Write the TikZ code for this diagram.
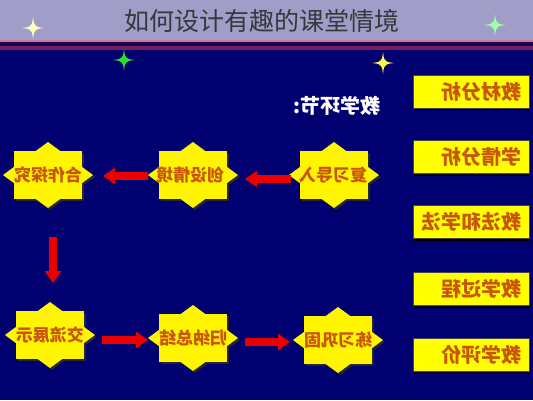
\documentclass[tikz,border=0pt]{standalone}
\usepackage{fontspec}
\usepackage{graphicx}
\newfontfamily\cjk{Noto Sans CJK SC}
\usetikzlibrary{arrows.meta,shadows}
\definecolor{navybg}{RGB}{0,0,112}
\definecolor{topband}{RGB}{160,158,200}
\definecolor{pinkline}{RGB}{205,120,150}
\definecolor{darkline}{RGB}{30,0,80}
\definecolor{maroonline}{RGB}{115,30,95}
\definecolor{staryellow}{RGB}{255,245,0}
\definecolor{boxyellow}{RGB}{255,255,0}
\definecolor{boxedge}{RGB}{70,70,80}
\definecolor{txtorange}{RGB}{200,85,10}
\definecolor{arrred}{RGB}{235,0,0}
\definecolor{titlegray}{RGB}{55,55,60}
\definecolor{sparkA}{RGB}{255,255,190}
\definecolor{sparkB}{RGB}{160,255,160}
\definecolor{sparkC}{RGB}{40,225,40}
\definecolor{sparkD}{RGB}{255,250,80}
\tikzset{
  pics/octo/.style={code={
    \fill[black!85] (-32,-22) rectangle (36,26);
    \fill[black!85] (-43,2) -- (2,-31) -- (47,2) -- (2,35) -- cycle;
    \fill[staryellow] (-34,-24) rectangle (34,24);
    \fill[staryellow] (-45,0) -- (0,-33) -- (45,0) -- (0,33) -- cycle;
  }},
  pics/spark/.style={code={
    \fill[#1, opacity=0.35] (0,0) circle (4.5);
    \fill[#1] (0,-11) .. controls (1.2,-1.2) .. (11,0) .. controls (1.2,1.2) .. (0,11)
      .. controls (-1.2,1.2) .. (-11,0) .. controls (-1.2,-1.2) .. (0,-11) -- cycle;
  }},
  stext/.style={inner sep=0pt, text=txtorange, font={\cjk\bfseries\fontsize{17}{17}\selectfont}},
  rbox/.style={fill=boxyellow, draw=boxedge, line width=0.8pt,
    minimum width=116pt, minimum height=33pt, text width=100pt, align=right, inner sep=0pt,
    text=txtorange, font={\cjk\bfseries\fontsize{20}{20}\selectfont},
    drop shadow={shadow xshift=0.5pt, shadow yshift=-2pt, fill=black, opacity=1}},
  redarr/.style={draw=arrred, line width=8pt, -{Triangle[width=16pt,length=12pt]}},
}
\begin{document}
\begin{tikzpicture}[x=1pt,y=-1pt]
\useasboundingbox (0,0) rectangle (533,400);
% background
\fill[navybg] (0,0) rectangle (533,400);
\fill[topband] (0,0) rectangle (533,39.5);
\fill[pinkline] (0,39.5) rectangle (533,41.5);
\fill[darkline] (0,41.5) rectangle (533,46);
\fill[maroonline] (0,46) rectangle (533,50);
% sparkles
\pic at (33,28) {spark=sparkA};
\pic at (495,25) {spark=sparkB};
\pic at (124,60) {spark=sparkC};
\pic at (383,63) {spark=sparkD};
% title
\node[text=titlegray, font={\cjk\fontsize{25}{25}\selectfont}, inner sep=0pt] (title) at (262,21) {如何设计有趣的课堂情境};
% heading
\node[text=white, font={\cjk\bfseries\fontsize{20}{20}\selectfont}, inner sep=0pt] (heading) at (337,106) {\reflectbox{教学环节:}};
% stars
\pic at (334,175) {octo};
\pic at (193,175) {octo};
\pic at (48,175) {octo};
\pic at (50,335) {octo};
\pic at (193,338) {octo};
\pic at (338,340) {octo};
\node[stext] (fuxi) at (333,175) {\reflectbox{复习导入}};
\node[stext] (chuangshe) at (190,175) {\reflectbox{创设情境}};
\node[stext] (hezuo) at (48,175) {\reflectbox{合作探究}};
\node[stext] (jiaoliu) at (50,335) {\reflectbox{交流展示}};
\node[stext] (guina) at (193,338) {\reflectbox{归纳总结}};
\node[stext] (lianxi) at (338,340) {\reflectbox{练习巩固}};
% arrows
\draw[redarr, shorten <=42pt, shorten >=55pt] ([yshift=-4pt]fuxi.center) -- ([yshift=-4pt]chuangshe.center);
\draw[redarr, shorten <=42pt, shorten >=55pt] ([yshift=-1pt]chuangshe.center) -- ([yshift=-1pt]hezuo.center);
\draw[redarr, shorten <=62pt, shorten >=52pt] ([xshift=5pt]hezuo.center) -- ([xshift=3pt]jiaoliu.center);
\draw[redarr, shorten <=52pt, shorten >=45pt] ([yshift=-5pt]jiaoliu.center) -- ([yshift=-2pt]guina.center);
\draw[redarr, shorten <=52pt, shorten >=48pt] ([yshift=-4pt]guina.center) -- ([yshift=-2pt]lianxi.center);
% right boxes
\node[rbox] (b1) at (471,91.5) {\reflectbox{教材分析}};
\node[rbox] (b2) at (471,157) {\reflectbox{学情分析}};
\node[rbox] (b3) at (471,222) {\reflectbox{教法和学法}};
\node[rbox] (b4) at (471,289) {\reflectbox{教学过程}};
\node[rbox] (b5) at (471,354.5) {\reflectbox{教学评价}};
\end{tikzpicture}
\end{document}
